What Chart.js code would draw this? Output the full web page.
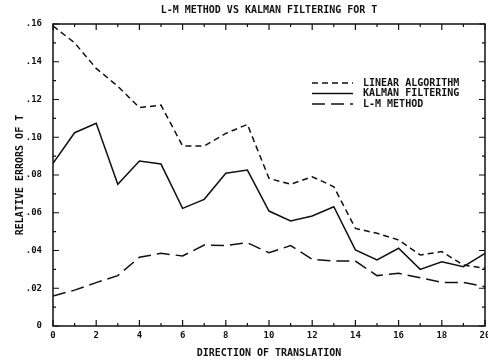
<!DOCTYPE html>
<html>
<head>
<meta charset="utf-8">
<script src="https://cdn.jsdelivr.net/npm/chart.js@4/dist/chart.umd.min.js"></script>
<style>
    body { margin: 0; background: #fff; }
    #wrap { width: 488px; height: 363px; }
</style>
</head>
<body>
<div id="wrap"><canvas id="errors-chart"></canvas></div>
<script>
const directions = [0, 1, 2, 3, 4, 5, 6, 7, 8, 9, 10, 11, 12, 13, 14, 15, 16, 17, 18, 19, 20];
const linearAlgorithm = [0.159, 0.150, 0.1365, 0.127, 0.1157, 0.117, 0.0954, 0.0954, 0.102, 0.1068, 0.0782,
    0.0751, 0.0791, 0.0738, 0.0517, 0.0491, 0.0456, 0.0376, 0.0394, 0.0323, 0.0306];
const kalmanFiltering = [0.0862, 0.1024, 0.1074, 0.0751, 0.0874, 0.0858, 0.0623, 0.0671, 0.0809, 0.0826, 0.0609,
    0.0556, 0.0583, 0.0632, 0.0403, 0.035, 0.0412, 0.030, 0.034, 0.0314, 0.0385];
const lmMethod = [0.0159, 0.019, 0.023, 0.0267, 0.0364, 0.0385, 0.0371, 0.0429, 0.0426, 0.0441, 0.0388,
    0.0426, 0.0353, 0.0344, 0.0344, 0.0267, 0.0279, 0.0256, 0.0231, 0.0231, 0.0208];
const seriesNames = ['LINEAR ALGORITHM', 'KALMAN FILTERING', 'L-M METHOD'];

const FONT = "'DejaVu Sans Mono', monospace";
const INK = '#111';

function toPoints(values) {
    return values.map((v, i) => ({ x: directions[i], y: v }));
}

// ticks pointing inwards on all four sides, plus the closed frame
const frameTicks = {
    id: 'frameTicks',
    afterDraw(chart) {
        const ctx = chart.ctx;
        const area = chart.chartArea;
        const xs = chart.scales.x;
        const ys = chart.scales.y;
        ctx.save();
        ctx.strokeStyle = INK;
        ctx.lineWidth = 1.5;
        ctx.strokeRect(area.left, area.top, area.right - area.left, area.bottom - area.top);
        ctx.lineWidth = 1.2;
        ctx.beginPath();
        for (let i = 0; i <= 20; i++) {
            const len = i % 2 === 0 ? 6 : 3;
            const px = xs.getPixelForValue(i);
            ctx.moveTo(px, area.bottom);
            ctx.lineTo(px, area.bottom - len);
            ctx.moveTo(px, area.top);
            ctx.lineTo(px, area.top + len);
        }
        for (let i = 0; i <= 16; i++) {
            const len = i % 2 === 0 ? 6 : 3;
            const py = ys.getPixelForValue(i / 100);
            ctx.moveTo(area.left, py);
            ctx.lineTo(area.left + len, py);
            ctx.moveTo(area.right, py);
            ctx.lineTo(area.right - len, py);
        }
        ctx.stroke();
        ctx.restore();
    }
};

// legend drawn inside the plot, upper right
const innerLegend = {
    id: 'innerLegend',
    afterDatasetsDraw(chart) {
        const ctx = chart.ctx;
        ctx.save();
        ctx.font = 'bold 10px ' + FONT;
        ctx.textBaseline = 'middle';
        ctx.fillStyle = INK;
        chart.data.datasets.forEach((ds, i) => {
            const y = 83 + i * 10.5;
            ctx.strokeStyle = INK;
            ctx.lineWidth = 1.5;
            ctx.setLineDash(ds.borderDash || []);
            ctx.beginPath();
            ctx.moveTo(312, y);
            ctx.lineTo(353, y);
            ctx.stroke();
            ctx.setLineDash([]);
            ctx.fillText(ds.label, 363, y);
        });
        ctx.restore();
    }
};

new Chart(document.getElementById('errors-chart'), {
    type: 'line',
    data: {
        datasets: [{
            label: seriesNames[0],
            data: toPoints(linearAlgorithm),
            borderColor: INK,
            borderWidth: 1.5,
            borderDash: [6, 4],
            pointRadius: 0,
            tension: 0
        }, {
            label: seriesNames[1],
            data: toPoints(kalmanFiltering),
            borderColor: INK,
            borderWidth: 1.5,
            pointRadius: 0,
            tension: 0
        }, {
            label: seriesNames[2],
            data: toPoints(lmMethod),
            borderColor: INK,
            borderWidth: 1.5,
            borderDash: [13, 6],
            pointRadius: 0,
            tension: 0
        }]
    },
    options: {
        responsive: true,
        maintainAspectRatio: false,
        animation: false,
        layout: { autoPadding: false, padding: { top: 0, right: 3, bottom: 0, left: 0 } },
        plugins: {
            legend: { display: false },
            tooltip: { enabled: false },
            title: {
                display: true,
                fullSize: false,
                text: 'L-M METHOD VS KALMAN FILTERING FOR T',
                color: INK,
                font: { family: FONT, size: 10, weight: 'bold' },
                padding: { top: 4, bottom: 8 }
            }
        },
        scales: {
            x: {
                type: 'linear',
                min: 0,
                max: 20,
                grid: { display: false, drawTicks: false },
                border: { display: false },
                ticks: {
                    stepSize: 2,
                    color: INK,
                    padding: 4,
                    maxRotation: 0,
                    font: { family: FONT, size: 9, weight: 'bold' }
                },
                title: {
                    display: true,
                    text: 'DIRECTION OF TRANSLATION',
                    color: INK,
                    font: { family: FONT, size: 10, weight: 'bold' },
                    padding: { top: 2, bottom: 4 }
                },
                afterFit(scale) {
                    scale.height = 37;
                    scale.paddingLeft = 0;
                    scale.paddingRight = 0;
                }
            },
            y: {
                min: 0,
                max: 0.16,
                grid: { display: false, drawTicks: false },
                border: { display: false },
                ticks: {
                    stepSize: 0.02,
                    color: INK,
                    padding: 11,
                    font: { family: FONT, size: 9, weight: 'bold' },
                    callback: v => v === 0 ? '0' : v.toFixed(2).replace(/^0/, '')
                },
                title: {
                    display: true,
                    text: 'RELATIVE ERRORS OF T',
                    color: INK,
                    font: { family: FONT, size: 10, weight: 'bold' },
                    padding: { top: 14, bottom: 0 }
                },
                afterFit(scale) {
                    scale.width = 53;
                    scale.paddingTop = 0;
                    scale.paddingBottom = 0;
                }
            }
        }
    },
    plugins: [frameTicks, innerLegend]
});
</script>
</body>
</html>
